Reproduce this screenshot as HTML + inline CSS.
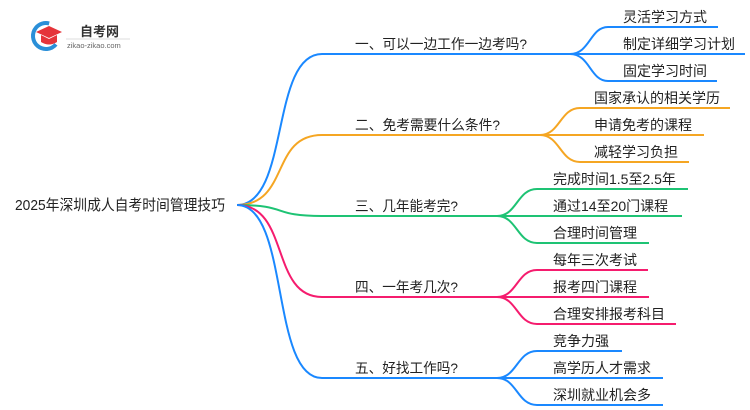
<!DOCTYPE html>
<html><head><meta charset="utf-8"><style>
html,body{margin:0;padding:0;background:#fff;}
svg{display:block;}
text{font-family:"Liberation Sans","Noto Sans CJK SC",sans-serif;fill:#222;}
</style></head><body>
<svg width="750" height="410" viewBox="0 0 750 410" xmlns="http://www.w3.org/2000/svg">
<circle cx="46" cy="36" r="13" fill="none" stroke="#2a8fd8" stroke-width="4" stroke-dasharray="55 30" transform="rotate(40 46 36)"/>
<path d="M36 32 L49 26 L62 32 L49 38 Z" fill="#e5343a"/>
<path d="M41 35 L41 42 Q49 47 57 42 L57 35 L49 39 Z" fill="#e5343a"/>
<text x="80" y="36" font-size="13" font-weight="bold" style="fill:#333">自考网</text>
<line x1="66" y1="39" x2="130" y2="39" stroke="#ddd" stroke-width="1"/>
<text x="67" y="48" font-size="7.5" style="fill:#666">zikao-zikao.com</text>

<text x="15" y="210" font-size="15" textLength="210" lengthAdjust="spacingAndGlyphs">2025年深圳成人自考时间管理技巧</text>

<g fill="none" stroke-width="2">
<g stroke="#1a88ff">
<path d="M237,205 C290,205 270,54 322,54 L570,54"/>
<path d="M570,54 C590,54 590,27 608,27 L718,27"/>
<path d="M570,54 L745,54"/>
<path d="M570,54 C590,54 590,81 608,81 L717,81"/>
</g>
<g stroke="#f5a623">
<path d="M237,205 C290,205 270,135 322,135 L540,135"/>
<path d="M540,135 C560,135 560,108 580,108 L730,108"/>
<path d="M540,135 L704,135"/>
<path d="M540,135 C560,135 560,162 580,162 L689,162"/>
</g>
<g stroke="#1ec374">
<path d="M237,205 C290,205 270,216 322,216 L497,216"/>
<path d="M497,216 C517,216 517,189 537,189 L688,189"/>
<path d="M497,216 L682,216"/>
<path d="M497,216 C517,216 517,243 537,243 L649,243"/>
</g>
<g stroke="#f51c6e">
<path d="M237,205 C290,205 270,297 322,297 L497,297"/>
<path d="M497,297 C517,297 517,270 537,270 L648,270"/>
<path d="M497,297 L649,297"/>
<path d="M497,297 C517,297 517,324 537,324 L676,324"/>
</g>
<g stroke="#1a88ff">
<path d="M237,205 C290,205 270,378 322,378 L497,378"/>
<path d="M497,378 C517,378 517,351 537,351 L622,351"/>
<path d="M497,378 L663,378"/>
<path d="M497,378 C517,378 517,405 537,405 L663,405"/>
</g>
</g>

<g font-size="14">
<text x="355" y="49" textLength="172" lengthAdjust="spacingAndGlyphs">一、可以一边工作一边考吗?</text>
<text x="355" y="130" textLength="145" lengthAdjust="spacingAndGlyphs">二、免考需要什么条件?</text>
<text x="355" y="211" textLength="103" lengthAdjust="spacingAndGlyphs">三、几年能考完?</text>
<text x="355" y="292" textLength="103" lengthAdjust="spacingAndGlyphs">四、一年考几次?</text>
<text x="355" y="373" textLength="103" lengthAdjust="spacingAndGlyphs">五、好找工作吗?</text>

<text x="623" y="22">灵活学习方式</text>
<text x="623" y="49">制定详细学习计划</text>
<text x="623" y="76">固定学习时间</text>

<text x="594" y="103">国家承认的相关学历</text>
<text x="594" y="130">申请免考的课程</text>
<text x="594" y="157">减轻学习负担</text>

<text x="553" y="184">完成时间1.5至2.5年</text>
<text x="553" y="211">通过14至20门课程</text>
<text x="553" y="238">合理时间管理</text>

<text x="553" y="265">每年三次考试</text>
<text x="553" y="292">报考四门课程</text>
<text x="553" y="319">合理安排报考科目</text>

<text x="553" y="346">竞争力强</text>
<text x="553" y="373">高学历人才需求</text>
<text x="553" y="400">深圳就业机会多</text>
</g>
</svg>
</body></html>
